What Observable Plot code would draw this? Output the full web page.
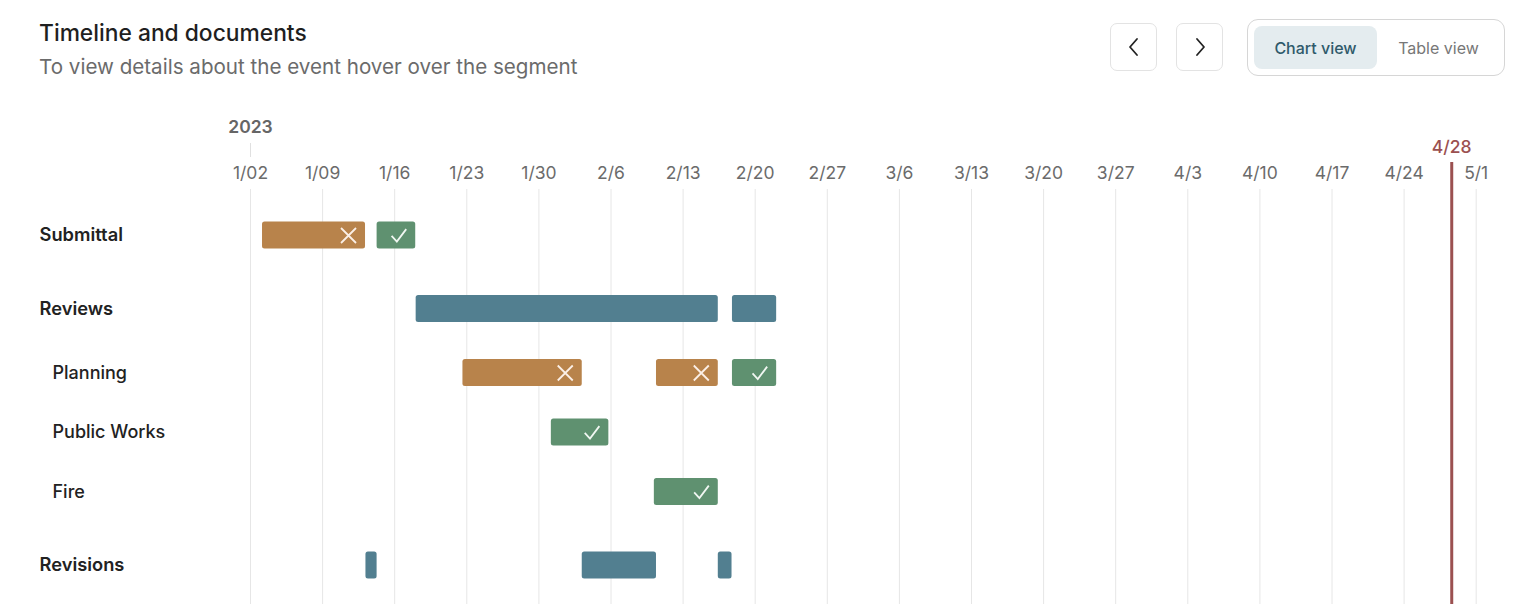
<!DOCTYPE html>
<html>
<head>
<meta charset="utf-8">
<script src="https://cdn.jsdelivr.net/npm/d3@7"></script>
<script src="https://cdn.jsdelivr.net/npm/@observablehq/plot@0.6"></script>
<style>
  html, body { margin: 0; padding: 0; background: #fff; font-family: Inter, "Noto Sans", sans-serif; }
  #page { position: relative; width: 1538px; height: 604px; overflow: hidden; }
  .title { position: absolute; left: 39px; top: 19px; font-size: 22.8px; font-weight: 500; color: #1f1f1f; line-height: 28px; white-space: nowrap; }
  .subtitle { position: absolute; left: 39px; top: 54px; font-size: 20.6px; font-weight: 400; color: #6b6b6b; line-height: 26px; white-space: nowrap; }
  .btn { position: absolute; top: 23px; width: 47px; height: 48px; border: 1px solid #e3e3e3; border-radius: 7px; box-sizing: border-box; display: flex; align-items: center; justify-content: center; }
  .seg { position: absolute; left: 1247px; top: 19px; width: 258px; height: 57px; border: 1px solid #d6d6d6; border-radius: 11px; box-sizing: border-box; }
  .pill { position: absolute; left: 6px; top: 6px; width: 123px; height: 43px; background: #e4ecef; border-radius: 8px; display: flex; align-items: center; justify-content: center; font-size: 16px; font-weight: 500; color: #2f5a6b; }
  .other { position: absolute; left: 129px; top: 6px; width: 123px; height: 43px; display: flex; align-items: center; justify-content: center; font-size: 16px; font-weight: 400; color: #777; }
  #chart { position: absolute; left: 0; top: 100px; }
  #chart svg { display: block; }
</style>
</head>
<body>
<div id="page">
  <div class="title">Timeline and documents</div>
  <div class="subtitle">To view details about the event hover over the segment</div>
  <div class="btn" style="left:1110px"><svg width="16" height="20" viewBox="0 0 16 20"><path d="M11 2 L4 10 L11 18" fill="none" stroke="#222" stroke-width="1.8" stroke-linecap="round" stroke-linejoin="round"/></svg></div>
  <div class="btn" style="left:1176px"><svg width="16" height="20" viewBox="0 0 16 20"><path d="M5 2 L12 10 L5 18" fill="none" stroke="#222" stroke-width="1.8" stroke-linecap="round" stroke-linejoin="round"/></svg></div>
  <div class="seg"><div class="pill">Chart view</div><div class="other">Table view</div></div>
  <div id="chart"></div>
</div>
<script>
// ---- data ----
const rowNames  = ["Submittal", "Reviews", "Planning", "Public Works", "Fire", "Revisions"];
const rowLevels = [0, 0, 1, 1, 1, 0];

const segRow    = ["Submittal", "Submittal", "Reviews", "Reviews", "Planning", "Planning", "Planning", "Public Works", "Fire", "Revisions", "Revisions", "Revisions"];
const segStart  = ["2023-01-03T04:00Z", "2023-01-14T07:00Z", "2023-01-18T02:00Z", "2023-02-17T19:00Z", "2023-01-22T15:00Z", "2023-02-10T10:00Z", "2023-02-17T19:00Z", "2023-01-31T05:00Z", "2023-02-10T05:00Z", "2023-01-13T05:00Z", "2023-02-03T05:00Z", "2023-02-16T10:00Z"];
const segEnd    = ["2023-01-13T04:00Z", "2023-01-18T01:00Z", "2023-02-16T10:00Z", "2023-02-22T02:00Z", "2023-02-03T05:00Z", "2023-02-16T10:00Z", "2023-02-22T02:00Z", "2023-02-05T19:00Z", "2023-02-16T10:00Z", "2023-01-14T07:00Z", "2023-02-10T10:00Z", "2023-02-17T18:00Z"];
const segStatus = ["rejected", "approved", "review", "review", "rejected", "rejected", "approved", "approved", "approved", "revision", "revision", "revision"];

const tickDates  = ["2023-01-02", "2023-01-09", "2023-01-16", "2023-01-23", "2023-01-30", "2023-02-06", "2023-02-13", "2023-02-20", "2023-02-27", "2023-03-06", "2023-03-13", "2023-03-20", "2023-03-27", "2023-04-03", "2023-04-10", "2023-04-17", "2023-04-24", "2023-05-01"];
const tickLabels = ["1/02", "1/09", "1/16", "1/23", "1/30", "2/6", "2/13", "2/20", "2/27", "3/6", "3/13", "3/20", "3/27", "4/3", "4/10", "4/17", "4/24", "5/1"];
const yearLabel = "2023";
const yearDate = "2023-01-02";
const todayDate = "2023-04-28T15:00Z";
const todayLabel = "4/28";
const xDomain = ["2023-01-02", "2023-05-02"];

// ---- layout (pixel-equivalent y units, top to bottom) ----
const FIRST = 46, GAP_GROUP = 73.5, GAP_SUB_FIRST = 64, GAP_SUB = 59.5, HALF = 13.5;
const rows = [];
rowNames.forEach((name, i) => {
  let pos;
  if (i === 0) pos = FIRST;
  else if (rowLevels[i] === 0) pos = rows[i - 1].pos + GAP_GROUP;
  else if (rowLevels[i - 1] === 0) pos = rows[i - 1].pos + GAP_SUB_FIRST;
  else pos = rows[i - 1].pos + GAP_SUB;
  rows.push({name, level: rowLevels[i], pos});
});
const posOf = Object.fromEntries(rows.map(r => [r.name, r.pos]));

const segs = segRow.map((r, i) => ({
  row: r, pos: posOf[r], start: new Date(segStart[i]), end: new Date(segEnd[i]), status: segStatus[i]
}));
const ticks = tickDates.map(d => new Date(d + "T00:00Z"));

const crossSymbol = {
  draw(ctx, size) {
    const r = Math.sqrt(size / Math.PI);
    ctx.moveTo(-r, -r); ctx.lineTo(r, r);
    ctx.moveTo(r, -r); ctx.lineTo(-r, r);
  }
};
const checkSymbol = {
  draw(ctx, size) {
    const r = Math.sqrt(size / Math.PI);
    ctx.moveTo(-r * 0.95, r * 0.05);
    ctx.lineTo(-r * 0.25, r * 0.8);
    ctx.lineTo(r * 1.0, -r * 0.85);
  }
};

const colors = {rejected: "#b8834b", approved: "#5f9170", review: "#527f90", revision: "#527f90"};

const chart = Plot.plot({
  width: 1538,
  height: 504,
  marginLeft: 250,
  marginRight: 52,
  marginTop: 89,
  marginBottom: 0,
  style: {fontFamily: "Inter, 'Noto Sans', sans-serif", background: "transparent", overflow: "visible"},
  x: {type: "utc", domain: xDomain.map(d => new Date(d + "T00:00Z")), axis: null},
  y: {type: "linear", domain: [0, 415], reverse: true, axis: null},
  marks: [
    Plot.ruleX(ticks, {x: d => d, stroke: "#e6e6e6", strokeWidth: 1}),
    Plot.ruleX([new Date(yearDate + "T00:00Z")], {x: d => d, y1: -46, y2: -32, stroke: "#e0e0e0", strokeWidth: 1}),
    Plot.text([yearLabel], {x: () => new Date(yearDate + "T00:00Z"), text: d => d, frameAnchor: "top", lineAnchor: "middle", dy: -62, fontSize: 17.5, fontWeight: 600, fill: "#666"}),
    Plot.text(ticks, {x: d => d, text: (d, i) => tickLabels[i], frameAnchor: "top", lineAnchor: "middle", dy: -16, fontSize: 17.5, fill: "#6b6b6b"}),
    Plot.rect(segs, {x1: "start", x2: "end", y1: d => d.pos - HALF, y2: d => d.pos + HALF, fill: d => colors[d.status], rx: 2.5}),
    Plot.dot(segs.filter(d => d.status === "rejected"), {x: "end", y: "pos", dx: -17, symbol: crossSymbol, r: 7.5, stroke: "#fbefe6", strokeWidth: 1.8, fill: "none"}),
    Plot.dot(segs.filter(d => d.status === "approved"), {x: "end", y: "pos", dx: -17, symbol: checkSymbol, r: 7.5, stroke: "#f1f7f2", strokeWidth: 1.8, fill: "none"}),
    Plot.ruleX([new Date(todayDate)], {x: d => d, y1: -27, y2: 415, stroke: "#9b5050", strokeWidth: 3}),
    Plot.text([todayLabel], {x: () => new Date(todayDate), text: d => d, frameAnchor: "top", lineAnchor: "middle", dy: -42, fontSize: 17.5, fontWeight: 500, fill: "#9b5050"}),
    Plot.text(rows.filter(r => r.level === 0), {y: "pos", text: "name", frameAnchor: "left", dx: -211, textAnchor: "start", fontSize: 18.3, fontWeight: 600, fill: "#222"}),
    Plot.text(rows.filter(r => r.level === 1), {y: "pos", text: "name", frameAnchor: "left", dx: -198, textAnchor: "start", fontSize: 18, fontWeight: 500, fill: "#222"})
  ]
});
document.getElementById("chart").appendChild(chart);
</script>
</body>
</html>
